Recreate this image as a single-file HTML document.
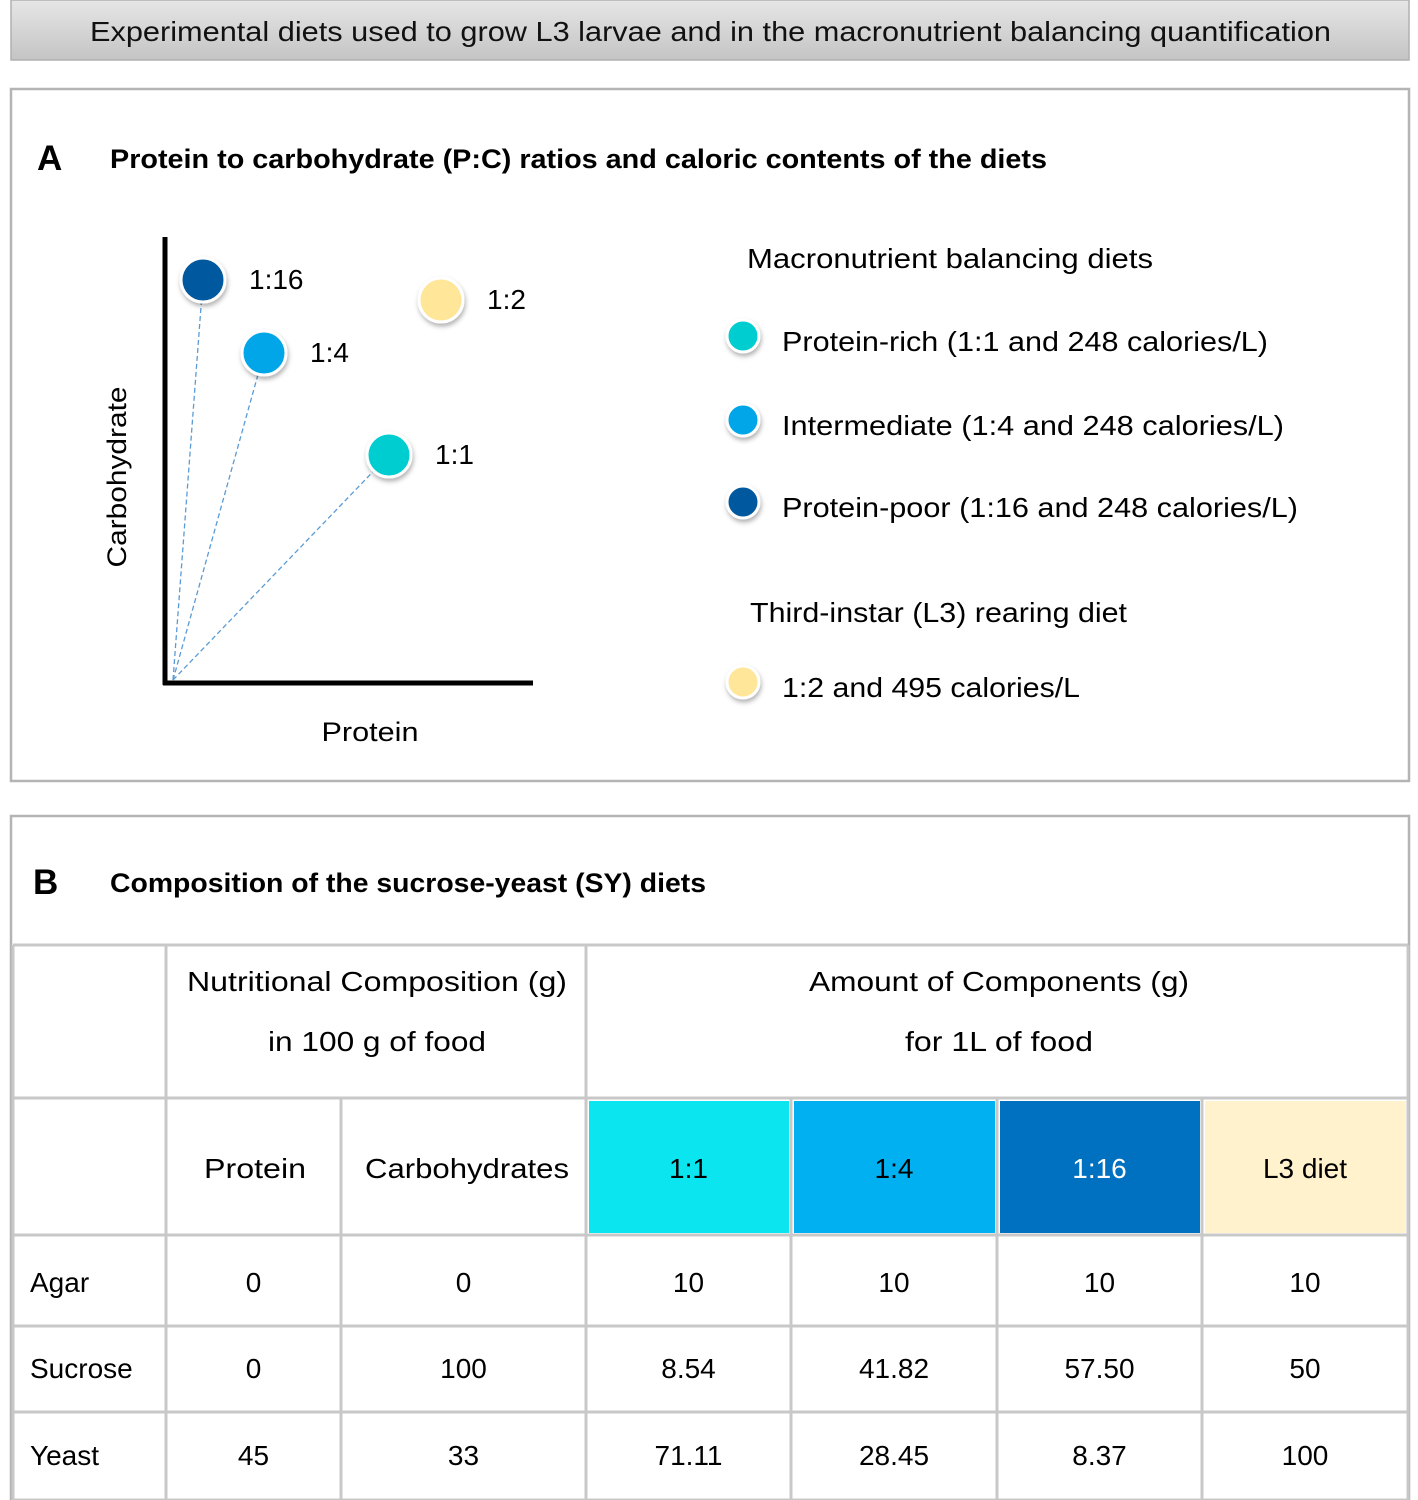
<!DOCTYPE html>
<html><head><meta charset="utf-8"><style>
html,body{margin:0;padding:0;background:#fff;width:1418px;height:1500px;overflow:hidden}
svg{display:block;font-family:"Liberation Sans",sans-serif}
</style></head><body>
<svg id="fig" width="1418" height="1500" viewBox="0 0 1418 1500" xmlns="http://www.w3.org/2000/svg">
<defs>
<linearGradient id="hg" x1="0" y1="0" x2="0" y2="1"><stop offset="0" stop-color="#e6e6e6"/><stop offset="1" stop-color="#c4c4c4"/></linearGradient>
<filter id="sh" x="-50%" y="-50%" width="200%" height="200%"><feDropShadow dx="1" dy="3" stdDeviation="2.5" flood-color="#000" flood-opacity="0.3"/></filter>
</defs>
<g>
<rect x="11" y="0" width="1398" height="60" fill="url(#hg)" stroke="#b0b0b0" stroke-width="1.5"/>
<text x="90" y="41" font-size="28" fill="#111" textLength="1241" lengthAdjust="spacingAndGlyphs">Experimental diets used to grow L3 larvae and in the macronutrient balancing quantification</text>
</g>
<rect x="11" y="89" width="1398" height="692" fill="none" stroke="#b4b4b4" stroke-width="2.5"/>
<text x="37" y="170" font-size="35" font-weight="bold">A</text>
<text x="110" y="168" font-size="27" font-weight="bold" textLength="937" lengthAdjust="spacingAndGlyphs">Protein to carbohydrate (P:C) ratios and caloric contents of the diets</text>
<g id="chart">
<line x1="165" y1="237" x2="165" y2="685" stroke="#000" stroke-width="5"/>
<line x1="163" y1="683" x2="533" y2="683" stroke="#000" stroke-width="5"/>
<text x="370" y="741" font-size="27" text-anchor="middle" textLength="97" lengthAdjust="spacingAndGlyphs">Protein</text>
<text transform="translate(126,477) rotate(-90)" font-size="27" text-anchor="middle" textLength="181" lengthAdjust="spacingAndGlyphs">Carbohydrate</text>
</g>
<g>
<text x="747" y="268" font-size="28" textLength="406" lengthAdjust="spacingAndGlyphs">Macronutrient balancing diets</text>
<text x="750" y="622" font-size="28" textLength="377" lengthAdjust="spacingAndGlyphs">Third-instar (L3) rearing diet</text>
</g>
<rect x="11" y="816" width="1398" height="690" fill="none" stroke="#b4b4b4" stroke-width="2.5"/>
<text x="33" y="894" font-size="35" font-weight="bold">B</text>
<text x="110" y="892" font-size="27" font-weight="bold" textLength="596" lengthAdjust="spacingAndGlyphs">Composition of the sucrose-yeast (SY) diets</text>
<g id="table"></g>
</svg>
<script>
var NS='http://www.w3.org/2000/svg';
// chart data (arbitrary units)
var dietLabels=['1:16','1:4','1:1','1:2'];
var proteinVals=[3.3,9.4,21.9,27.1];
var carbVals=[40.3,33.0,22.8,38.3];
var dietColors=['#00589F','#00A6E8','#00CDCF','#FFE699'];
var dashed=[true,true,true,false];
var legendLabels=['Protein-rich (1:1 and 248 calories/L)','Intermediate (1:4 and 248 calories/L)','Protein-poor (1:16 and 248 calories/L)','1:2 and 495 calories/L'];
var legendColors=['#00CDCF','#00A6E8','#00589F','#FFE699'];
var legendWidths=[486,502,516,298];
function xs(p){return 170+p*10;}
function ys(c){return 683-c*10;}
function mk(tag,attrs,parent){var e=document.createElementNS(NS,tag);for(var k in attrs)e.setAttribute(k,attrs[k]);parent.appendChild(e);return e;}
var chart=document.getElementById('chart');
for(var i=0;i<dietLabels.length;i++){
  var cx=xs(proteinVals[i]),cy=ys(carbVals[i]);
  if(dashed[i]){
    var ln=mk('line',{x1:xs(0.3),y1:ys(0.3),x2:cx,y2:cy,stroke:'#5b9bd5','stroke-width':1.3,'stroke-dasharray':'5,3'},chart);
    
    
  }
}
for(var i=0;i<dietLabels.length;i++){
  var cx=xs(proteinVals[i]),cy=ys(carbVals[i]);
  var c=mk('circle',{cx:cx,cy:cy,r:22,fill:dietColors[i],stroke:'#fff','stroke-width':3,filter:'url(#sh)'},chart);
  
  
  var t=mk('text',{x:cx+46,y:cy+9,'font-size':28},chart);
  t.textContent=dietLabels[i];
  
  
}
var fig=document.getElementById('fig');
var legYs=[336,420,502,682];
for(var i=0;i<legendLabels.length;i++){
  var c=mk('circle',{cx:743,cy:legYs[i],r:16,fill:legendColors[i],stroke:'#fff','stroke-width':3,filter:'url(#sh)'},fig);
  
  
  var t=mk('text',{x:782,y:legYs[i]+15,'font-size':28,textLength:legendWidths[i],lengthAdjust:'spacingAndGlyphs'},fig);
  t.textContent=legendLabels[i];
  
  
}
// table
var tbl=document.getElementById('table');
var colX=[13,166,341,586,791,997,1202,1408];
var rowY=[945,1098,1235,1326,1412,1500];
var hdrFill=['#0BE5F0','#00B0F0','#0070C0','#FFF2CC'];
var hdrText=['1:1','1:4','1:16','L3 diet'];
var rowNames=['Agar','Sucrose','Yeast'];
var tableVals=[['0','0','10','10','10','10'],['0','100','8.54','41.82','57.50','50'],['45','33','71.11','28.45','8.37','100']];
for(var j=0;j<4;j++){
  var r=mk('rect',{x:colX[3+j]+3,y:rowY[1]+3,width:colX[4+j]-colX[3+j]-5,height:rowY[2]-rowY[1]-5,fill:hdrFill[j]},tbl);
  
  
}
var G='#c8c8c8';
for(var k=0;k<rowY.length;k++){var l=mk('line',{x1:colX[0],y1:rowY[k],x2:colX[7],y2:rowY[k],stroke:G,'stroke-width':3},tbl);}
function vline(x,y1,y2){var l=mk('line',{x1:x,y1:y1,x2:x,y2:y2,stroke:G,'stroke-width':3},tbl);}
vline(colX[0],rowY[0],1500);vline(colX[1],rowY[0],1500);vline(colX[3],rowY[0],1500);vline(colX[7],rowY[0],1500);
[2,4,5,6].forEach(function(k){vline(colX[k],rowY[1],1500);});
function txt(x,y,s,name,anchor,fill,w){var a={x:x,y:y,'font-size':28,'text-anchor':anchor||'middle',fill:fill||'#000'};if(w){a.textLength=w;a.lengthAdjust='spacingAndGlyphs';}var t=mk('text',a,tbl);t.textContent=s;return t;}
txt(377,991,'Nutritional Composition (g)','nutritional-header','middle','#000',380);
txt(377,1051,'in 100 g of food','nutritional-subheader','middle','#000',218);
txt(999,991,'Amount of Components (g)','amount-header','middle','#000',380);
txt(999,1051,'for 1L of food','amount-subheader','middle','#000',188);
txt(255,1178,'Protein','col-header-protein','middle','#000',102);
txt(467,1178,'Carbohydrates','col-header-carbohydrates','middle','#000',204);
for(var j=0;j<4;j++){txt((colX[3+j]+colX[4+j])/2,1178,hdrText[j],'col-header-diet',null,j==2?'#fff':'#000');}
var rowBase=[1292,1378,1465];
for(var i=0;i<rowNames.length;i++){
  txt(30,rowBase[i],rowNames[i],'row-label','start');
  for(var j=0;j<6;j++){txt((colX[1+j]+colX[2+j])/2,rowBase[i],tableVals[i][j],'table-cell');}
}
</script>
</body></html>
